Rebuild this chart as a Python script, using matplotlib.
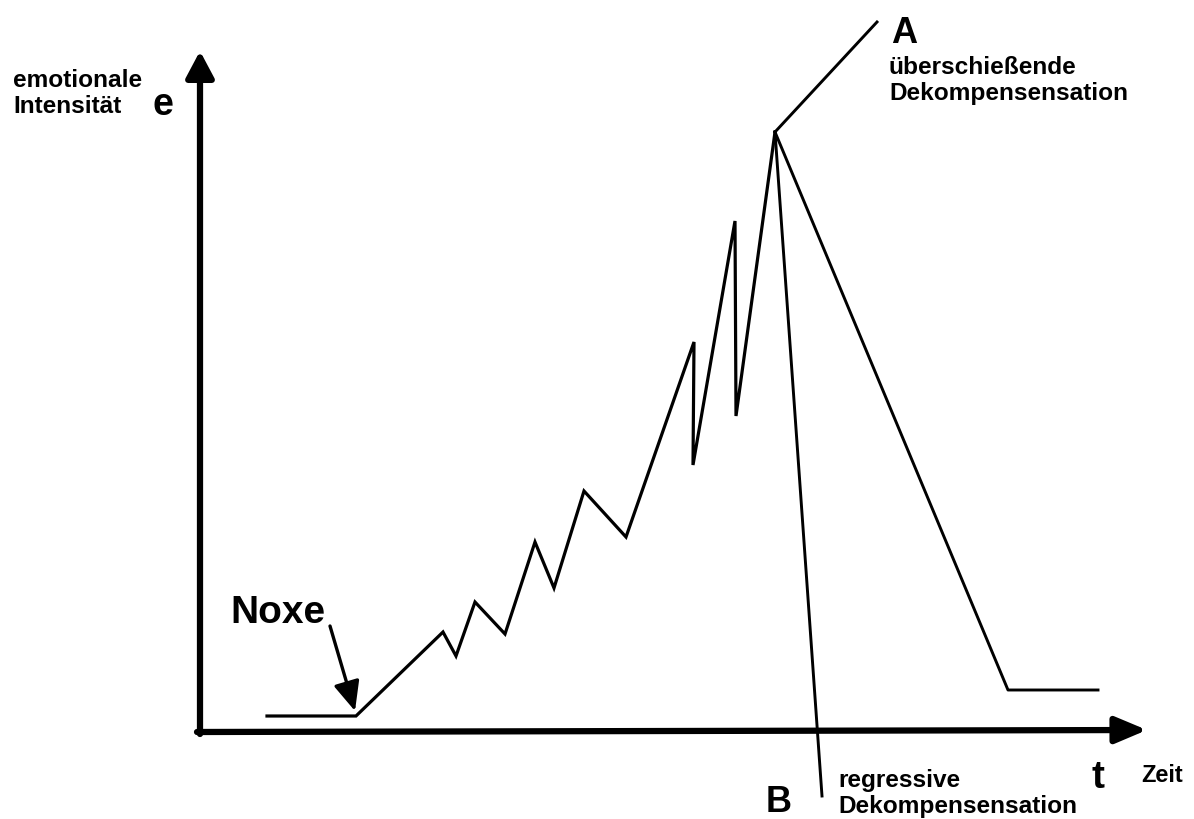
import matplotlib
matplotlib.use("Agg")
import matplotlib.pyplot as plt

plt.rcParams['font.family'] = ['Liberation Sans', 'DejaVu Sans']

# Main emotional intensity curve (time, intensity) in picture units (y grows downward)
curve_t = [267, 356, 443, 456, 475, 505, 535, 554, 584, 626, 694, 693, 735, 736, 775]
curve_e = [717, 717, 633, 657, 603, 635, 543, 589, 492, 538, 343, 466, 222, 417, 133]

# Branch A: overshooting decompensation
branch_a_t = [775, 877]
branch_a_e = [133, 23]

# Branch B: regressive decompensation
branch_b_t = [775, 822]
branch_b_e = [133, 797]

# Recovery branch
recov_t = [775, 1008, 1098]
recov_e = [133, 691, 691]

fig = plt.figure(figsize=(11.94, 8.2), dpi=100)
ax = fig.add_axes([0, 0, 1, 1])
ax.set_xlim(0, 1194)
ax.set_ylim(820, 0)
ax.axis('off')

k = 'black'
# axes arrows
ax.annotate('', xy=(200, 52), xytext=(200, 735),
            arrowprops=dict(arrowstyle='-|>,head_length=1.6,head_width=0.85',
                            lw=4.5, color=k, shrinkA=0, shrinkB=0, mutation_scale=10))
ax.annotate('', xy=(1147, 731), xytext=(197, 733),
            arrowprops=dict(arrowstyle='-|>,head_length=1.9,head_width=0.8',
                            lw=4.5, color=k, shrinkA=0, shrinkB=0, mutation_scale=10))

ax.plot(curve_t, curve_e, color=k, lw=2.3, solid_joinstyle='miter')
ax.plot(branch_a_t, branch_a_e, color=k, lw=2.1)
ax.plot(branch_b_t, branch_b_e, color=k, lw=2.1)
ax.plot(recov_t, recov_e, color=k, lw=2.1)

# Noxe arrow
ax.annotate('', xy=(355, 712), xytext=(330, 627),
            arrowprops=dict(arrowstyle='-|>,head_length=1.8,head_width=0.8',
                            lw=2.4, color=k, shrinkA=0, shrinkB=0, mutation_scale=10))

fw = 'bold'
small = 17.6
ax.text(13, 113, 'emotionale\nIntensität', fontsize=small, fontweight=fw,
        va='baseline', ha='left', linespacing=1.17)
ax.text(152, 115, 'e', fontsize=27, fontweight=fw, va='baseline', ha='left')
ax.text(230, 623, 'Noxe', fontsize=28, fontweight=fw, va='baseline', ha='left')
ax.text(891, 43, 'A', fontsize=26, fontweight=fw, va='baseline', ha='left')
ax.text(889, 100, 'überschießende\nDekompensensation', fontsize=small, fontweight=fw,
        va='baseline', ha='left', linespacing=1.14)
ax.text(1091, 788, 't', fontsize=28, fontweight=fw, va='baseline', ha='left')
ax.text(1141, 782, 'Zeit', fontsize=17, fontweight=fw, va='baseline', ha='left')
ax.text(766, 812, 'B', fontsize=26, fontweight=fw, va='baseline', ha='left')
ax.text(838, 813, 'regressive\nDekompensensation', fontsize=small, fontweight=fw,
        va='baseline', ha='left', linespacing=1.14)

fig.savefig('out.png', dpi=100, facecolor='white')
